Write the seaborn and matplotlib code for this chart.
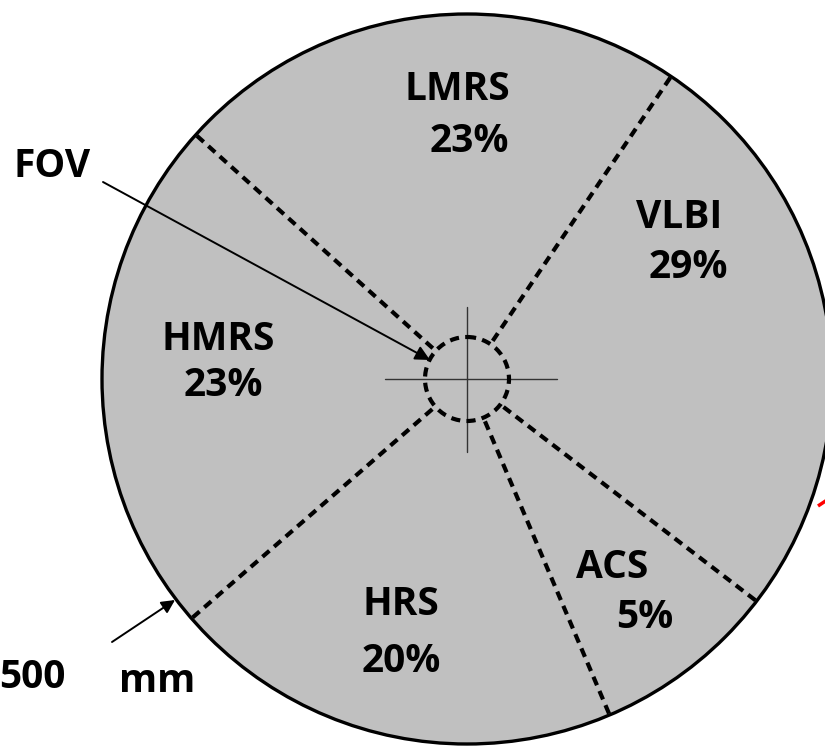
import numpy as np
import pandas as pd
import seaborn as sns
import matplotlib.pyplot as plt
from matplotlib.patches import Circle

# datos del diagrama
segmentos = ["LMRS", "VLBI", "ACS", "HRS", "HMRS"]
porcentajes = [23, 29, 5, 20, 23]
# angulos de las lineas divisorias (grados)
angulos_div = [56, 138, 221, 293, 322.5]

# geometria en pixeles
cx, cy = 467, 379
R = 365
r_fov = 42
r_ini = 46

sns.set_theme(style="white")
plt.rcParams['font.family'] = ['Open Sans', 'DejaVu Sans']
plt.rcParams['text.color'] = 'black'

fig = plt.figure(figsize=(8.25, 7.48), dpi=100)
ax = fig.add_axes([0, 0, 1, 1])

# circulo exterior
ax.add_patch(Circle((cx, cy), R, facecolor='#c0c0c0', edgecolor='black', lw=2.4, zorder=1))

# lineas divisorias
filas = []
for i, a in enumerate(angulos_div):
    t = np.deg2rad(a)
    for r in (r_ini, R):
        filas.append({"div": i, "x": cx + r * np.cos(t), "y": cy - r * np.sin(t)})
df = pd.DataFrame(filas)
sns.lineplot(data=df, x="x", y="y", units="div", estimator=None, sort=False,
             color='black', lw=3.0, dashes=False, ax=ax, zorder=3)
for ln in ax.get_lines():
    ln.set_linestyle((0, (2.2, 1.5)))
ax.set_xlim(0, 825)
ax.set_ylim(748, 0)
ax.axis('off')

# campo de vision (FOV)
ax.add_patch(Circle((cx, cy), r_fov, facecolor='none', edgecolor='black', lw=3.0,
                    linestyle=(0, (2.2, 1.5)), zorder=3))
ax.plot([385, 557], [cy, cy], color='#333333', lw=1.0, zorder=2)
ax.plot([cx, cx], [307, 452], color='#333333', lw=1.0, zorder=2)

# etiquetas
pos_nombre = {"LMRS": (457, 100), "VLBI": (679, 228), "ACS": (612, 578),
              "HRS": (401, 615), "HMRS": (218, 350)}
pos_pct = {"LMRS": (469, 152), "VLBI": (688, 278), "ACS": (645, 628),
           "HRS": (401, 672), "HMRS": (223, 396)}
for s, p in zip(segmentos, porcentajes):
    x, y = pos_nombre[s]
    ax.text(x, y, s, ha='center', va='baseline', fontsize=28, fontweight='bold',
            color='black', zorder=4)
    x, y = pos_pct[s]
    ax.text(x, y, f"{p}%", ha='center', va='baseline', fontsize=28, fontweight='bold',
            color='black', zorder=4)

ax.text(52, 177, "FOV", ha='center', va='baseline', fontsize=28, fontweight='bold', color='black')
ax.annotate("", xy=(430, 360), xytext=(103, 182),
            arrowprops=dict(arrowstyle='-|>', lw=1.4, color='black', mutation_scale=22, shrinkA=0, shrinkB=0),
            zorder=5)

ax.text(-1, 688, "500", ha='left', va='baseline', fontsize=28, fontweight='bold', color='black')
ax.text(157, 692, "mm", ha='center', va='baseline', fontsize=28, fontweight='bold', color='black')
ax.annotate("", xy=(175, 600), xytext=(112, 642),
            arrowprops=dict(arrowstyle='-|>', lw=1.4, color='black', mutation_scale=20, shrinkA=0, shrinkB=0),
            zorder=5)

# marca roja al borde
ax.plot([818, 830], [506, 498], color='red', lw=2.5, solid_capstyle='butt')

plt.savefig("out.png", dpi=100)
